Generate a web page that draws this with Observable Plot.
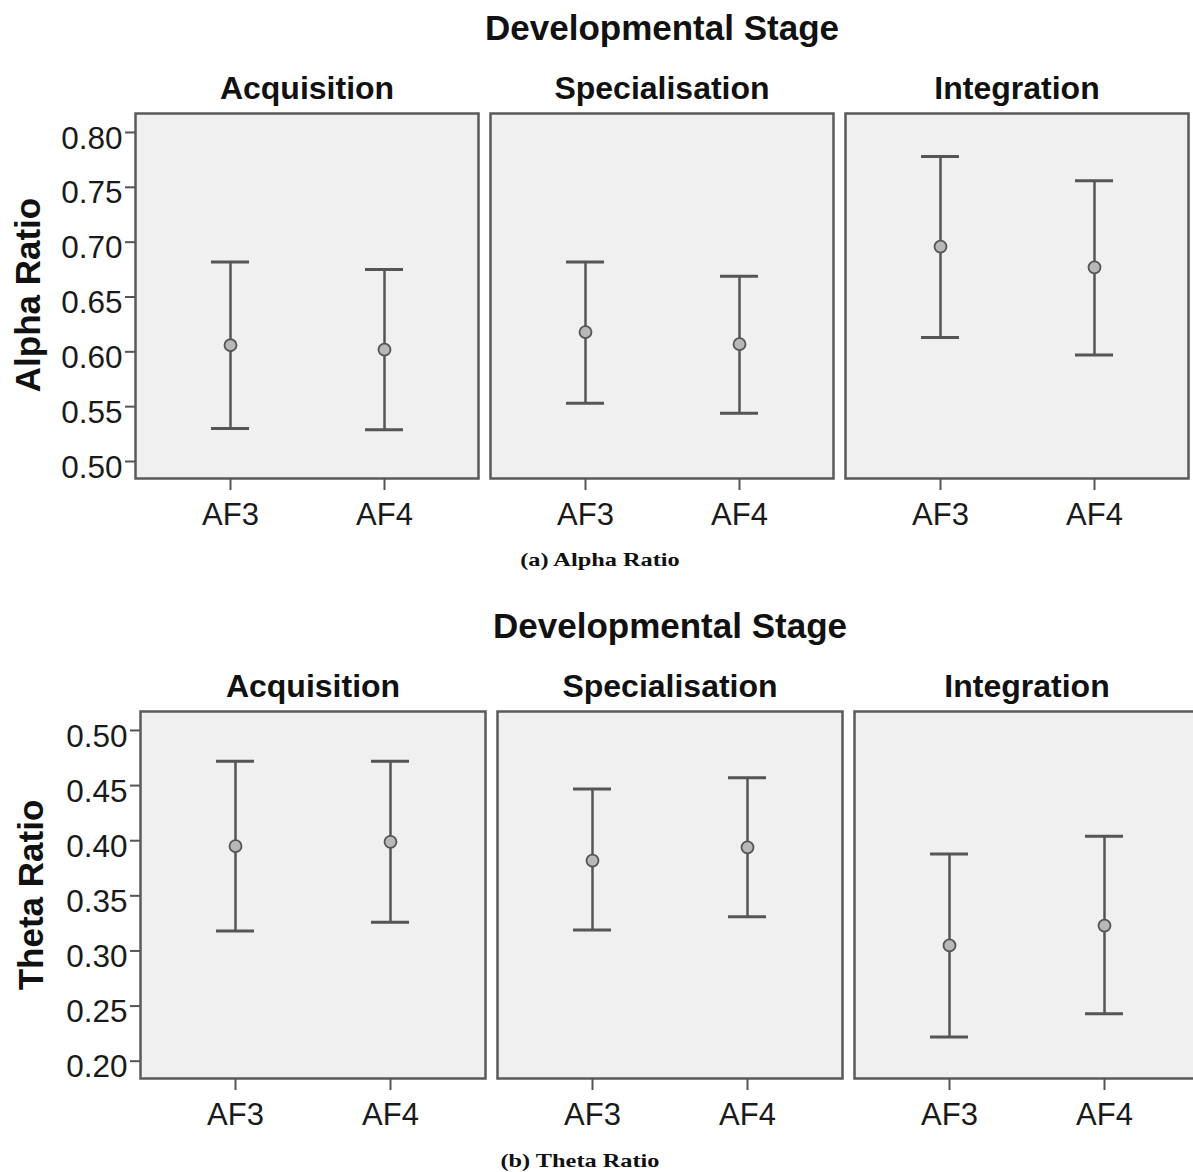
<!DOCTYPE html>
<html><head><meta charset="utf-8">
<script src="https://cdn.jsdelivr.net/npm/d3@7"></script>
<script src="https://cdn.jsdelivr.net/npm/@observablehq/plot@0.6"></script>
<style>
html,body{margin:0;padding:0;background:#fff;overflow:hidden;width:1193px;height:1172px;}
#page{position:relative;width:1193px;height:1172px;overflow:hidden;font-family:"Liberation Sans",Arial,sans-serif;color:#111;}
.abs{position:absolute;}
.title{font-weight:bold;font-size:35px;line-height:1;text-align:center;white-space:nowrap;}
.ylab{font-weight:bold;font-size:35px;line-height:1;white-space:nowrap;transform:translate(-50%,-50%) rotate(-90deg);}
.cap{font-family:"Liberation Serif","Times New Roman",serif;font-weight:bold;font-size:19px;line-height:1;white-space:nowrap;transform:translateX(-50%) scaleX(1.28);}
</style></head>
<body>
<div id="page">
  <div class="abs" id="chartA" style="left:0;top:0;"></div>
  <div class="abs" id="chartB" style="left:0;top:598px;"></div>
  <div class="abs title" style="left:135px;top:10px;width:1054px;">Developmental Stage</div>
  <div class="abs title" style="left:140px;top:608px;width:1060px;">Developmental Stage</div>
  <div class="abs ylab" style="left:27px;top:295px;">Alpha Ratio</div>
  <div class="abs ylab" style="left:30px;top:895px;">Theta Ratio</div>
  <div class="abs cap" style="left:600px;top:550px;">(a) Alpha Ratio</div>
  <div class="abs cap" style="left:580px;top:1151px;">(b) Theta Ratio</div>
</div>
<script>
const stages = ["Acquisition", "Specialisation", "Integration"];
const electrodes = ["AF3", "AF4"];

// order: Acquisition AF3, AF4, Specialisation AF3, AF4, Integration AF3, AF4
const alphaMean = [0.606, 0.602, 0.618, 0.607, 0.696, 0.677];
const alphaLow  = [0.530, 0.529, 0.553, 0.544, 0.613, 0.597];
const alphaHigh = [0.682, 0.675, 0.682, 0.669, 0.778, 0.756];

const thetaMean = [0.395, 0.399, 0.382, 0.394, 0.305, 0.323];
const thetaLow  = [0.318, 0.326, 0.319, 0.331, 0.222, 0.243];
const thetaHigh = [0.472, 0.472, 0.447, 0.457, 0.388, 0.404];

const alphaTicks = [0.50, 0.55, 0.60, 0.65, 0.70, 0.75, 0.80];
const thetaTicks = [0.20, 0.25, 0.30, 0.35, 0.40, 0.45, 0.50];

function rowsOf(means, lows, highs) {
  const rows = [];
  stages.forEach((s, i) => electrodes.forEach((e, j) => {
    const k = i * 2 + j;
    rows.push({stage: s, electrode: e, mean: means[k], low: lows[k], high: highs[k]});
  }));
  return rows;
}

function makeChart(rows, yDomain, yTicks, opts) {
  const dark = "#555";
  return Plot.plot({
    width: opts.width,
    height: 540,
    marginTop: 113,
    marginBottom: opts.marginBottom,
    marginLeft: opts.marginLeft,
    marginRight: opts.marginRight,
    style: {fontFamily: "'Liberation Sans', Arial, sans-serif", background: "none", maxWidth: "none", overflow: "visible"},
    fx: {domain: stages, paddingInner: opts.pad, paddingOuter: 0, label: null},
    x: {type: "band", domain: electrodes, paddingInner: 0.754, paddingOuter: 0.488, label: null},
    y: {domain: yDomain, label: null},
    marks: [
      Plot.frame({fill: "#f0f0f0", stroke: "#5a5a5a", strokeWidth: 2.5}),
      Plot.ruleX(rows, {fx: "stage", x: "electrode", y1: "low", y2: "high", stroke: dark, strokeWidth: 2.5}),
      Plot.tickY(rows, {fx: "stage", x: "electrode", y: "low", stroke: dark, strokeWidth: 3}),
      Plot.tickY(rows, {fx: "stage", x: "electrode", y: "high", stroke: dark, strokeWidth: 3}),
      Plot.dot(rows, {fx: "stage", x: "electrode", y: "mean", r: 6, fill: "#b8b8b8", stroke: dark, strokeWidth: 1.8}),
      Plot.axisY(yTicks, {tickSize: 10, stroke: dark, strokeWidth: 2, fill: "none", label: null}),
      Plot.axisY(yTicks, {tickSize: 0, tickPadding: 13, dy: 6, tickFormat: d => d.toFixed(2), fontSize: 31.5, fill: "#1a1a1a", label: null}),
      Plot.axisX({tickSize: 12, tickPadding: 12, fontSize: 31, stroke: dark, strokeWidth: 2, color: "#1a1a1a", label: null}),
      Plot.axisFx({anchor: "top", tickSize: 0, tickPadding: 15, fontSize: 32, fontWeight: "bold", fill: "#111", label: null})
    ]
  });
}

document.getElementById("chartA").append(
  makeChart(rowsOf(alphaMean, alphaLow, alphaHigh), [0.4845, 0.8173], alphaTicks,
    {width: 1193, marginLeft: 135, marginRight: 4, marginBottom: 62, pad: 0.0338})
);
document.getElementById("chartB").append(
  makeChart(rowsOf(thetaMean, thetaLow, thetaHigh), [0.1843, 0.5172], thetaTicks,
    {width: 1200, marginLeft: 140, marginRight: 0, marginBottom: 60, pad: 0.0336})
);
</script>
</body></html>
